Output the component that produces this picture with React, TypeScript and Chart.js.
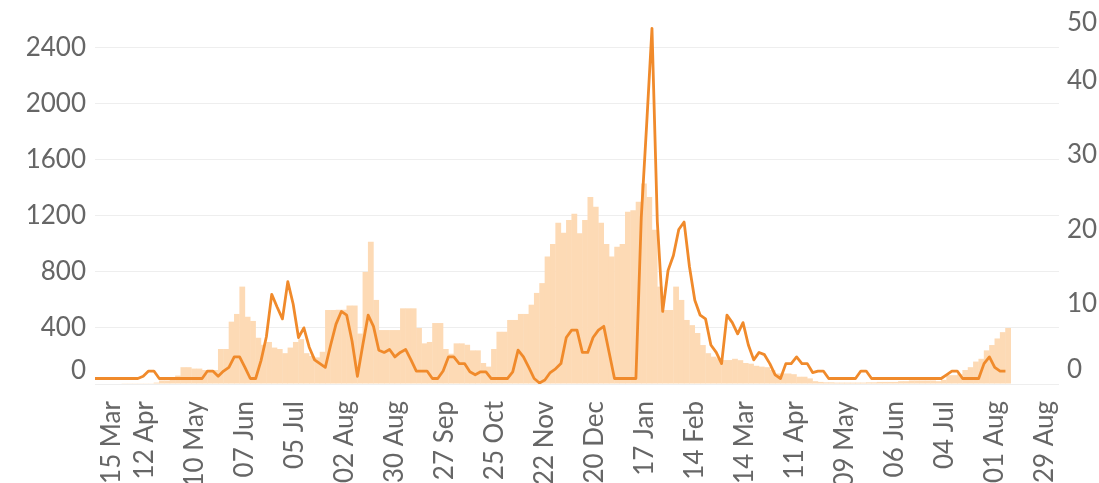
import React, { useEffect, useRef } from 'react';
import { Chart, registerables } from 'chart.js';

Chart.register(...registerables);

// Each value covers a 3-day period, first period starting 15 Mar 2020.
const STEP_DAYS = 3;
const TICK_SPACING_DAYS = 28;

const X_TICK_LABELS = [
  '15 Mar', '12 Apr', '10 May', '07 Jun', '05 Jul', '02 Aug', '30 Aug', '27 Sep',
  '25 Oct', '22 Nov', '20 Dec', '17 Jan', '14 Feb', '14 Mar', '11 Apr', '09 May',
  '06 Jun', '04 Jul', '01 Aug', '29 Aug',
];
const LEFT_TICKS = [0, 400, 800, 1200, 1600, 2000, 2400];
const RIGHT_TICKS = [0, 10, 20, 30, 40, 50];

// Bars (left axis)
const barValues = [
  0, 0, 0, 0, 0, 5, 5, 5, 5, 5,
  5, 10, 25, 25, 30, 60, 120, 120, 110, 110,
  100, 100, 100, 250, 250, 445, 500, 695, 480, 450,
  330, 280, 300, 260, 250, 220, 260, 300, 320, 220,
  200, 190, 230, 528, 528, 530, 530, 560, 560, 360,
  800, 1015, 600, 385, 385, 385, 385, 540, 540, 540,
  400, 290, 300, 435, 435, 250, 216, 290, 290, 280,
  240, 240, 150, 124, 250, 373, 373, 457, 457, 500,
  500, 566, 650, 720, 910, 1000, 1150, 1080, 1170, 1215,
  1075, 1170, 1335, 1265, 1150, 1000, 910, 980, 1000, 1230,
  1240, 1300, 1430, 1335, 1100, 695, 528, 528, 695, 600,
  457, 420, 364, 278, 220, 195, 183, 171, 171, 180,
  170, 150, 145, 130, 124, 120, 100, 75, 75, 75,
  70, 52, 52, 40, 20, 15, 12, 12, 10, 10,
  10, 10, 10, 10, 12, 12, 15, 15, 15, 15,
  20, 20, 25, 25, 25, 25, 25, 20, 30, 63,
  63, 70, 100, 120, 160, 180, 240, 278, 325, 370,
  400,
];

// Line (right axis)
const lineValues = [
  0, 0, 0, 0, 0, 0, 0, 0, 0, 0.3,
  1, 1, 0, 0, 0, 0, 0, 0, 0, 0,
  0, 1, 1, 0.3, 1, 1.5, 2.9, 2.9, 1.5, 0,
  0, 2.4, 5.6, 11.3, 9.6, 8, 13, 10, 5.5, 6.8,
  4.2, 2.5, 2, 1.5, 4.5, 7.3, 9, 8.5, 5, 0.3,
  4.5, 8.5, 7, 3.8, 3.5, 3.9, 2.9, 3.5, 3.9, 2.5,
  1, 1, 1, 0, 0, 1, 2.9, 2.9, 2, 2,
  0.9, 0.5, 0.9, 0.9, 0, 0, 0, 0, 0.9, 3.8,
  2.9, 1.5, 0, -0.6, -0.2, 0.8, 1.3, 2, 5.5, 6.5,
  6.5, 3.5, 3.5, 5.5, 6.5, 7, 3.5, 0, 0, 0,
  0, 0, 21.6, 34, 47, 21, 9, 14.5, 16.5, 20,
  21, 15, 10.5, 8.5, 8, 4.5, 3.5, 2, 8.5, 7.5,
  6, 7.5, 4.5, 2.5, 3.5, 3.2, 2, 0.5, 0, 2,
  2, 2.9, 2, 2, 0.8, 1, 1, 0, 0, 0,
  0, 0, 0, 1, 1, 0, 0, 0, 0, 0,
  0, 0, 0, 0, 0, 0, 0, 0, 0, 0.5,
  1, 1, 0, 0, 0, 0, 2, 2.9, 1.5, 1,
  1,
];

const TEXT_COLOR = '#666666';
const LINE_COLOR = '#F08A2B';
const BAR_COLOR = '#FDDAB5';
const GRID_COLOR = '#eeeeee';
const FONT_FAMILY = 'Lato';
const FONT_SIZE = 26;

export default function App() {
  const ref = useRef<HTMLCanvasElement | null>(null);

  useEffect(() => {
    const canvas = ref.current;
    if (!canvas) return;

    const chart = new Chart(canvas, {
      type: 'bar',
      data: {
        datasets: [
          {
            type: 'line',
            data: lineValues.map((v, i) => ({ x: i * STEP_DAYS, y: v })),
            yAxisID: 'y2',
            borderColor: LINE_COLOR,
            borderWidth: 2.8,
            pointRadius: 0,
            tension: 0,
            fill: false,
            borderJoinStyle: 'round',
            order: 0,
          } as any,
          {
            type: 'bar',
            data: barValues.map((v, i) => ({ x: i * STEP_DAYS + STEP_DAYS / 2, y: v })),
            yAxisID: 'y',
            backgroundColor: BAR_COLOR,
            borderWidth: 0,
            barPercentage: 1.08,
            categoryPercentage: 1,
            order: 1,
          } as any,
        ],
      },
      options: {
        responsive: false,
        animation: false,
        devicePixelRatio: 1,
        layout: { padding: { top: 6, left: 0, right: 0, bottom: 0 } },
        plugins: { legend: { display: false }, tooltip: { enabled: false } },
        scales: {
          x: {
            type: 'linear',
            offset: false,
            min: 0,
            max: 540,
            grid: { display: false, offset: false },
            border: { display: false },
            afterBuildTicks: (s: any) => {
              s.ticks = X_TICK_LABELS.map((_, i) => ({ value: i * TICK_SPACING_DAYS }));
            },
            ticks: {
              autoSkip: false,
              minRotation: 90,
              maxRotation: 90,
              padding: 9,
              color: TEXT_COLOR,
              font: (ctx: any) => ({
                family: FONT_FAMILY,
                size: FONT_SIZE,
                lineHeight: ctx.tick && ctx.tick.value === 0 ? 0.654 : 1.2,
              }),
              callback: (_v: any, i: number) => (i === 0 ? ['', X_TICK_LABELS[i]] : X_TICK_LABELS[i]),
            },
            afterFit: (s: any) => {
              s.height = 99;
              s.paddingLeft = 0;
              s.paddingRight = 0;
            },
          } as any,
          y: {
            position: 'left',
            min: 0,
            max: 2697.6,
            afterBuildTicks: (s: any) => {
              s.ticks = LEFT_TICKS.map((v) => ({ value: v }));
            },
            grid: { color: GRID_COLOR, drawTicks: false, lineWidth: 1 },
            border: { display: false },
            ticks: {
              padding: 9,
              color: TEXT_COLOR,
              font: (ctx: any) => ({
                family: FONT_FAMILY,
                size: FONT_SIZE,
                lineHeight: ctx.tick && ctx.tick.value === 0 ? 1.054 : 1.2,
              }),
              callback: (v: any) => (v === 0 ? ['0', ''] : String(v)),
            },
            afterFit: (s: any) => {
              s.width = 95;
              s.paddingTop = 0;
              s.paddingBottom = 0;
            },
          } as any,
          y2: {
            position: 'right',
            min: -0.738,
            max: 50,
            afterBuildTicks: (s: any) => {
              s.ticks = RIGHT_TICKS.map((v) => ({ value: v }));
            },
            grid: { display: false, drawTicks: false },
            border: { display: false },
            ticks: {
              padding: 8,
              color: TEXT_COLOR,
              font: (ctx: any) => {
                const v = ctx.tick ? ctx.tick.value : null;
                let lh = 1.2;
                if (v === 0) lh = 0.654;
                if (v === 50) lh = 1.27;
                return { family: FONT_FAMILY, size: FONT_SIZE, lineHeight: lh };
              },
              callback: (v: any) => {
                if (v === 0) return ['0', ''];
                if (v === 50) return ['', '50'];
                return String(v);
              },
            },
            afterFit: (s: any) => {
              s.width = 40;
              s.paddingTop = 0;
              s.paddingBottom = 0;
            },
          } as any,
        },
      },
    });

    return () => chart.destroy();
  }, []);

  return (
    <div style={{ position: 'fixed', left: 0, top: 0, width: 1099, height: 483, background: '#ffffff' }}>
      <canvas ref={ref} width={1099} height={483} style={{ display: 'block', width: 1099, height: 483 }} />
    </div>
  );
}
